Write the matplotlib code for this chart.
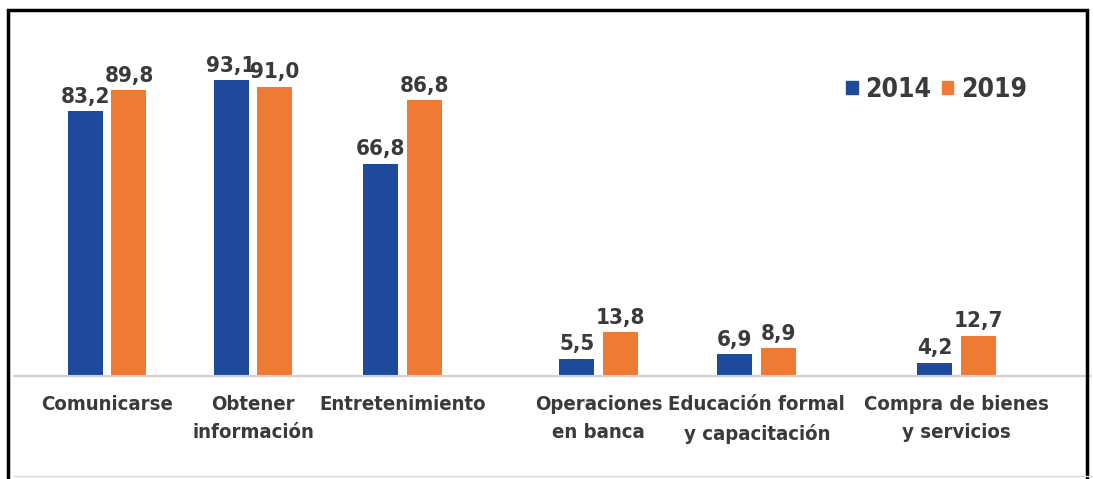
import numpy as np
import matplotlib.pyplot as plt
from matplotlib.patches import Rectangle, Patch

categories = ['Comunicarse', 'Obtener\ninformación', 'Entretenimiento',
              'Operaciones\nen banca', 'Educación formal\ny capacitación',
              'Compra de bienes\ny servicios']
vals_2014 = [83.2, 93.1, 66.8, 5.5, 6.9, 4.2]
vals_2019 = [89.8, 91.0, 86.8, 13.8, 8.9, 12.7]
series_names = ['2014', '2019']

# group centres (the source image spaces the groups unevenly)
x_pos = np.array([0, 0.885, 1.79, 2.98, 3.94, 5.15])

BLUE = '#1f4a9c'
ORANGE = '#ee7a33'
TXT = '#3a3a3a'

plt.rcParams['font.family'] = ['DejaVu Sans']
plt.rcParams['font.weight'] = 'bold'
plt.rcParams['font.stretch'] = 'condensed'

fig = plt.figure(figsize=(10.93, 4.79), dpi=100)
ax = fig.add_axes([14 / 1093, 103 / 479, 1076 / 1093, 346 / 479])

w = 0.212
off = 0.133
b1 = ax.bar(x_pos - off, vals_2014, w, color=BLUE)
b2 = ax.bar(x_pos + off, vals_2019, w, color=ORANGE)

for bars, vals in [(b1, vals_2014), (b2, vals_2019)]:
    for bar, v in zip(bars, vals):
        ax.annotate(f'{v:.1f}'.replace('.', ','),
                    (bar.get_x() + bar.get_width() / 2, v),
                    xytext=(0, 3), textcoords='offset points',
                    ha='center', va='bottom', fontsize=16,
                    fontweight='bold', color=TXT)

ax.set_xlim(-0.564, 5.96)
ax.set_ylim(0, 108.8)
ax.set_xticks(x_pos)
ax.set_xticklabels(categories, fontsize=14.6, fontweight='bold', color=TXT,
                   linespacing=1.65)
ax.tick_params(axis='x', length=0, pad=13.5)
ax.set_yticks([])
for s in ['top', 'right', 'left']:
    ax.spines[s].set_visible(False)
ax.spines['bottom'].set_color('#d0d0d0')
ax.spines['bottom'].set_linewidth(1.5)

handles = [Patch(color=BLUE), Patch(color=ORANGE)]
fig.legend(handles, series_names, loc='center', bbox_to_anchor=(0.857, 0.812),
           ncol=2, frameon=False, handlelength=0.42, handleheight=0.42,
           handletextpad=0.3, columnspacing=0.4,
           prop={'weight': 'bold', 'size': 19, 'stretch': 'condensed'},
           labelcolor=TXT)

# black frame around the chart
fig.add_artist(Rectangle((8 / 1093, -0.05), 1079 / 1093, 1.05 - 10 / 479,
                         transform=fig.transFigure, fill=False,
                         edgecolor='black', linewidth=2.5))
fig.add_artist(plt.Line2D([14 / 1093, 1.0], [3 / 479, 3 / 479],
                          transform=fig.transFigure, color='#d8d8d8',
                          linewidth=1))

fig.savefig('out.png', dpi=100)
